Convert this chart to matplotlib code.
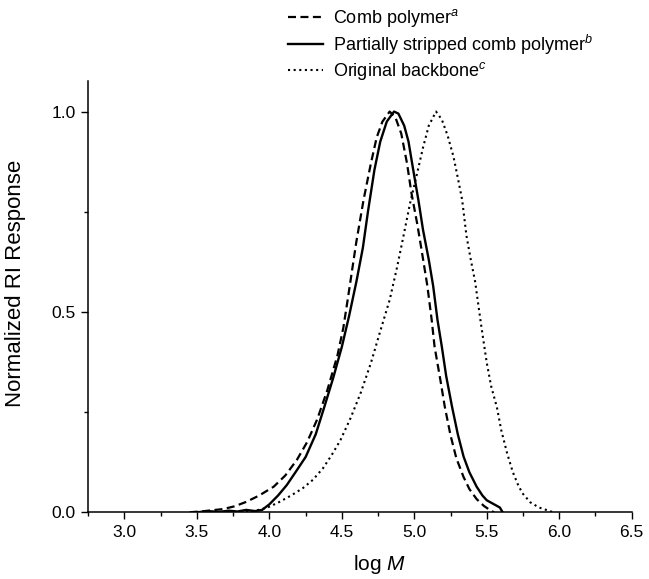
import matplotlib
matplotlib.use("Agg")
import matplotlib.pyplot as plt
from matplotlib.ticker import MultipleLocator, FormatStrFormatter

plt.rcParams['font.family'] = ['Liberation Sans', 'DejaVu Sans']
plt.rcParams['mathtext.fontset'] = 'custom'
plt.rcParams['mathtext.rm'] = 'Liberation Sans'
plt.rcParams['mathtext.it'] = 'Liberation Sans:italic'

# ---- data ----
comb_x = [3.45, 3.55, 3.68, 3.76, 3.84, 3.93, 4.03, 4.11, 4.19, 4.26, 4.33, 4.40, 4.47,
          4.51, 4.54, 4.60, 4.65, 4.70, 4.74, 4.78, 4.83, 4.87, 4.91, 4.95, 4.98, 5.02,
          5.05, 5.09, 5.12, 5.14, 5.18, 5.21, 5.25, 5.29, 5.34, 5.38, 5.43, 5.48, 5.52, 5.55]
comb_y = [0.000, 0.003, 0.008, 0.015, 0.026, 0.042, 0.064, 0.092, 0.131, 0.175, 0.232,
          0.305, 0.392, 0.460, 0.530, 0.675, 0.780, 0.870, 0.935, 0.975, 1.000, 0.985,
          0.945, 0.870, 0.797, 0.720, 0.655, 0.565, 0.480, 0.413, 0.330, 0.264, 0.192,
          0.135, 0.088, 0.058, 0.033, 0.016, 0.006, 0.000]

strip_x = [3.50, 3.58, 3.65, 3.72, 3.78, 3.84, 3.90, 3.95, 4.00, 4.06, 4.12, 4.18, 4.25,
           4.32, 4.38, 4.44, 4.50, 4.55, 4.60, 4.645, 4.68, 4.725, 4.765, 4.81, 4.86, 4.89,
           4.93, 4.96, 4.99, 5.03, 5.06, 5.10, 5.13, 5.16, 5.19, 5.22, 5.26, 5.30, 5.34,
           5.38, 5.43, 5.47, 5.50, 5.55, 5.59, 5.61]
strip_y = [0.000, 0.003, 0.001, 0.004, 0.002, 0.006, 0.003, 0.006, 0.020, 0.042, 0.068,
           0.100, 0.138, 0.195, 0.264, 0.335, 0.413, 0.490, 0.575, 0.660, 0.750, 0.855,
           0.925, 0.975, 1.000, 0.995, 0.965, 0.925, 0.860, 0.775, 0.705, 0.630, 0.565,
           0.480, 0.413, 0.340, 0.264, 0.195, 0.139, 0.100, 0.064, 0.042, 0.030, 0.020,
           0.012, 0.000]

back_x = [3.80, 3.88, 3.94, 4.00, 4.07, 4.15, 4.23, 4.30, 4.37, 4.43, 4.49, 4.56, 4.63,
          4.70, 4.76, 4.83, 4.88, 4.92, 4.97, 5.02, 5.06, 5.10, 5.15, 5.19, 5.23, 5.27,
          5.30, 5.33, 5.36, 5.39, 5.42, 5.46, 5.50, 5.53, 5.57, 5.60, 5.64, 5.68, 5.72,
          5.75, 5.80, 5.86, 5.91, 5.96]
back_y = [0.000, 0.003, 0.007, 0.014, 0.026, 0.042, 0.060, 0.081, 0.110, 0.143, 0.180,
          0.235, 0.298, 0.372, 0.446, 0.530, 0.610, 0.680, 0.770, 0.847, 0.910, 0.965,
          1.000, 0.980, 0.940, 0.888, 0.835, 0.780, 0.690, 0.630, 0.575, 0.470, 0.373,
          0.315, 0.262, 0.205, 0.148, 0.100, 0.065, 0.046, 0.025, 0.012, 0.006, 0.000]

labels = [r'Comb polymer$^{a}$', r'Partially stripped comb polymer$^{b}$',
          r'Original backbone$^{c}$']
xticks = [3.0, 3.5, 4.0, 4.5, 5.0, 5.5, 6.0, 6.5]
yticks = [0.0, 0.5, 1.0]

# ---- figure ----
fig = plt.figure(figsize=(6.49, 5.79), dpi=100)
ax = fig.add_axes([0.136, 0.1152, 0.9733 - 0.136, 0.8606 - 0.1152])

l1, = ax.plot(comb_x, comb_y, color='black', lw=1.6, linestyle=(0, (3.6, 2.0)))
l2, = ax.plot(strip_x, strip_y, color='black', lw=1.7, linestyle='-')
l3, = ax.plot(back_x, back_y, color='black', lw=1.5, linestyle=(0, (1, 1.7)))

ax.set_xlim(2.75, 6.5)
ax.set_ylim(0, 1.077)
ax.set_xticks(xticks)
ax.set_yticks(yticks)
ax.xaxis.set_major_formatter(FormatStrFormatter('%.1f'))
ax.yaxis.set_major_formatter(FormatStrFormatter('%.1f'))
ax.xaxis.set_minor_locator(MultipleLocator(0.25))
ax.yaxis.set_minor_locator(MultipleLocator(0.25))
ax.tick_params(which='major', direction='out', length=5, width=1.0, labelsize=12.5, pad=4)
ax.tick_params(which='minor', direction='out', length=3, width=1.0)
for s in ['top', 'right']:
    ax.spines[s].set_visible(False)
for s in ['left', 'bottom']:
    ax.spines[s].set_linewidth(1.1)

ax.set_xlabel(r'log $M$', fontsize=15)
ax.xaxis.set_label_coords((380 - 88.3) / 543.4, -0.095)
ax.set_ylabel('Normalized RI Response', fontsize=16)
ax.yaxis.set_label_coords(-0.115, 0.531)

fig.legend([l1, l2, l3], labels, loc='upper left',
           bbox_to_anchor=(288 / 649, 1 - 7 / 579), frameon=False,
           fontsize=13, handlelength=1.95, handletextpad=0.55,
           labelspacing=0.2, borderpad=0, borderaxespad=0)

fig.savefig('out.png', dpi=100)
